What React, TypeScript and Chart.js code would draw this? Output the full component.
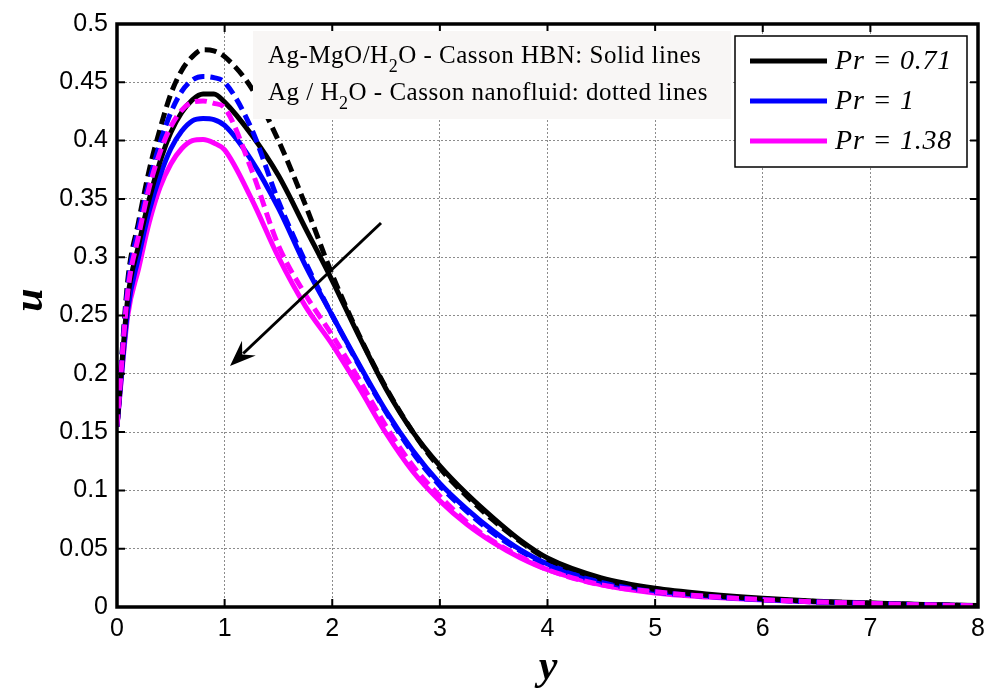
import React, { useEffect, useRef } from "react";
import { Chart, registerables } from "chart.js";
Chart.register(...registerables);

const xs = [0, 0.1, 0.2, 0.3, 0.4, 0.5, 0.6, 0.7, 0.8, 0.9, 1.0, 1.25, 1.5, 1.75, 2.0, 2.25, 2.5, 2.75, 3.0, 3.25, 3.5, 3.75, 4.0, 4.5, 5.0, 5.5, 6.0, 6.5, 7.0, 7.5, 8.0];

const pr071Hbn = [0.155,0.265,0.31,0.35,0.382,0.407,0.424,0.435,0.44,0.44,0.433,0.405,0.37,0.325,0.28,0.232,0.187,0.15,0.121,0.097,0.076,0.057,0.042,0.025,0.016,0.011,0.0075,0.005,0.0035,0.0022,0.0012];
const pr071Nf = [0.155,0.28,0.33,0.375,0.41,0.44,0.46,0.472,0.478,0.477,0.472,0.445,0.40,0.345,0.285,0.233,0.188,0.15,0.119,0.095,0.074,0.056,0.041,0.024,0.015,0.010,0.007,0.0048,0.0033,0.002,0.0011];
const pr1Hbn = [0.155,0.255,0.30,0.34,0.37,0.393,0.408,0.417,0.419,0.418,0.413,0.383,0.342,0.293,0.25,0.208,0.168,0.134,0.106,0.084,0.065,0.049,0.037,0.022,0.014,0.0095,0.0065,0.0045,0.003,0.002,0.001];
const pr1Nf = [0.155,0.275,0.325,0.365,0.398,0.424,0.442,0.452,0.455,0.454,0.45,0.41,0.348,0.296,0.25,0.207,0.167,0.132,0.104,0.082,0.063,0.048,0.036,0.021,0.013,0.009,0.0062,0.0043,0.003,0.0019,0.001];
const pr138Hbn = [0.155,0.25,0.29,0.33,0.36,0.38,0.393,0.40,0.401,0.398,0.392,0.35,0.30,0.258,0.225,0.188,0.149,0.116,0.091,0.071,0.055,0.042,0.032,0.019,0.012,0.0085,0.006,0.0042,0.0029,0.0018,0.0009];
const pr138Nf = [0.155,0.27,0.318,0.36,0.39,0.412,0.426,0.433,0.434,0.432,0.428,0.375,0.31,0.268,0.233,0.195,0.155,0.121,0.095,0.073,0.056,0.043,0.032,0.019,0.013,0.009,0.0063,0.0044,0.003,0.0019,0.001];

const xTicks = [0, 1, 2, 3, 4, 5, 6, 7, 8];
const yTicks = [0, 0.05, 0.1, 0.15, 0.2, 0.25, 0.3, 0.35, 0.4, 0.45, 0.5];
const legendLabels = ["Pr = 0.71", "Pr = 1", "Pr = 1.38"];
const colors = ["#000000", "#0000ff", "#ff00ff"];

const toPts = (ys: number[]) => ys.map((y, i) => ({ x: xs[i], y }));

const serif = '"Liberation Serif", "Times New Roman", serif';
const sans = '"Liberation Sans", Arial, sans-serif';

const overlay = {
  id: "overlay",
  afterDraw(chart: any) {
    const { ctx, chartArea: a, scales } = chart;
    const xs_ = scales.x;
    const ys_ = scales.y;
    ctx.save();
    ctx.strokeStyle = "#000";
    ctx.lineWidth = 2;
    xTicks.forEach((t) => {
      const px = xs_.getPixelForValue(t);
      ctx.beginPath();
      ctx.moveTo(px, a.bottom);
      ctx.lineTo(px, a.bottom - 8);
      ctx.moveTo(px, a.top);
      ctx.lineTo(px, a.top + 8);
      ctx.stroke();
    });
    yTicks.forEach((t) => {
      const py = ys_.getPixelForValue(t);
      ctx.beginPath();
      ctx.moveTo(a.left, py);
      ctx.lineTo(a.left + 8, py);
      ctx.moveTo(a.right, py);
      ctx.lineTo(a.right - 8, py);
      ctx.stroke();
    });
    ctx.lineWidth = 3.5;
    ctx.strokeRect(a.left, a.top, a.right - a.left, a.bottom - a.top);

    // annotation box
    ctx.fillStyle = "#f8f6f5";
    ctx.fillRect(253, 31, 478, 88);
    ctx.fillStyle = "#000";
    ctx.textBaseline = "alphabetic";
    ctx.textAlign = "left";
    (ctx as any).letterSpacing = "0.5px";
    const drawParts = (parts: [string, boolean][], x: number, y: number) => {
      let cx = x;
      parts.forEach(([s, sub]) => {
        ctx.font = sub ? `18px ${serif}` : `25px ${serif}`;
        ctx.fillText(s, cx, sub ? y + 9 : y);
        cx += ctx.measureText(s).width;
      });
    };
    drawParts([["Ag-MgO/H", false], ["2", true], ["O - Casson HBN: Solid lines", false]], 268, 63);
    drawParts([["Ag / H", false], ["2", true], ["O - Casson nanofluid: dotted lines", false]], 268, 100);

    // legend
    ctx.fillStyle = "#fff";
    ctx.fillRect(735, 36, 232, 131);
    ctx.strokeStyle = "#000";
    ctx.lineWidth = 1.5;
    ctx.strokeRect(735, 36, 232, 131);
    const ly = [61, 101, 141];
    (ctx as any).letterSpacing = "0.8px";
    legendLabels.forEach((lab, i) => {
      ctx.strokeStyle = colors[i];
      ctx.lineWidth = 5;
      ctx.beginPath();
      ctx.moveTo(750, ly[i]);
      ctx.lineTo(827, ly[i]);
      ctx.stroke();
      ctx.fillStyle = "#000";
      ctx.font = `italic 28px ${serif}`;
      ctx.textBaseline = "middle";
      ctx.fillText(lab, 835, ly[i] + 1);
    });
    (ctx as any).letterSpacing = "0px";

    // arrow
    const x1 = 381, y1 = 223, x2 = 230, y2 = 366;
    ctx.strokeStyle = "#000";
    ctx.fillStyle = "#000";
    ctx.lineWidth = 3;
    const ang = Math.atan2(y2 - y1, x2 - x1);
    const hl = 26, hw = 10;
    const bx = x2 - hl * Math.cos(ang), by = y2 - hl * Math.sin(ang);
    ctx.beginPath();
    ctx.moveTo(x1, y1);
    ctx.lineTo(bx + 0.3 * hl * Math.cos(ang), by + 0.3 * hl * Math.sin(ang));
    ctx.stroke();
    ctx.beginPath();
    ctx.moveTo(x2, y2);
    ctx.lineTo(bx + hw * Math.sin(ang), by - hw * Math.cos(ang));
    ctx.lineTo(bx + 0.35 * hl * Math.cos(ang), by + 0.35 * hl * Math.sin(ang));
    ctx.lineTo(bx - hw * Math.sin(ang), by + hw * Math.cos(ang));
    ctx.closePath();
    ctx.fill();

    // axis titles
    ctx.fillStyle = "#000";
    ctx.font = `bold italic 42px ${serif}`;
    ctx.textAlign = "center";
    ctx.textBaseline = "middle";
    ctx.fillText("y", 548, 668);
    ctx.save();
    ctx.translate(31, 300);
    ctx.rotate(-Math.PI / 2);
    ctx.fillText("u", 0, 0);
    ctx.restore();
    ctx.restore();
  },
};

export default function App() {
  const ref = useRef<HTMLCanvasElement | null>(null);
  useEffect(() => {
    if (!ref.current) return;
    const mk = (ys: number[], c: string, dashed: boolean, label: string) => ({
      label,
      data: toPts(ys),
      borderColor: c,
      backgroundColor: c,
      borderWidth: 5,
      borderDash: dashed ? [12, 6] : [],
      pointRadius: 0,
      cubicInterpolationMode: "monotone",
      fill: false,
    });
    const chart = new Chart(ref.current, {
      type: "line",
      data: {
        datasets: [
          mk(pr138Nf, colors[2], true, "Ag/H2O Pr=1.38"),
          mk(pr1Nf, colors[1], true, "Ag/H2O Pr=1"),
          mk(pr071Nf, colors[0], true, "Ag/H2O Pr=0.71"),
          mk(pr071Hbn, colors[0], false, legendLabels[0]),
          mk(pr1Hbn, colors[1], false, legendLabels[1]),
          mk(pr138Hbn, colors[2], false, legendLabels[2]),
        ],
      },
      options: {
        animation: false,
        responsive: false,
        layout: { padding: { left: 0, right: 0, top: 23, bottom: 0 } },
        plugins: { legend: { display: false }, tooltip: { enabled: false } },
        scales: {
          x: {
            type: "linear",
            min: 0,
            max: 8,
            afterFit: (s: any) => { s.height = 89; s.paddingRight = 8; s.paddingLeft = 0; },
            afterBuildTicks: (s: any) => { s.ticks = xTicks.map((v) => ({ value: v })); },
            grid: { color: "#8c8c8c", lineWidth: 1, drawTicks: false, tickLength: 0 },
            border: { display: false, dash: [2, 2] },
            ticks: { color: "#000", font: { family: sans, size: 25 }, padding: 7, maxRotation: 0 },
          },
          y: {
            type: "linear",
            min: 0,
            max: 0.5,
            afterFit: (s: any) => { s.width = 117; },
            afterBuildTicks: (s: any) => { s.ticks = yTicks.map((v) => ({ value: v })); },
            grid: { color: "#8c8c8c", lineWidth: 1, drawTicks: false, tickLength: 0 },
            border: { display: false, dash: [2, 2] },
            ticks: {
              color: "#000",
              font: { family: sans, size: 25 },
              padding: 9,
              callback: (v: any) => String(Math.round(Number(v) * 100) / 100),
            },
          },
        },
      },
      plugins: [overlay],
    });
    return () => chart.destroy();
  }, []);
  return (
    <div style={{ position: "absolute", left: 0, top: 0, width: 986, height: 696, background: "#fff" }}>
      <canvas ref={ref} width={986} height={696} style={{ width: 986, height: 696 }} />
    </div>
  );
}
